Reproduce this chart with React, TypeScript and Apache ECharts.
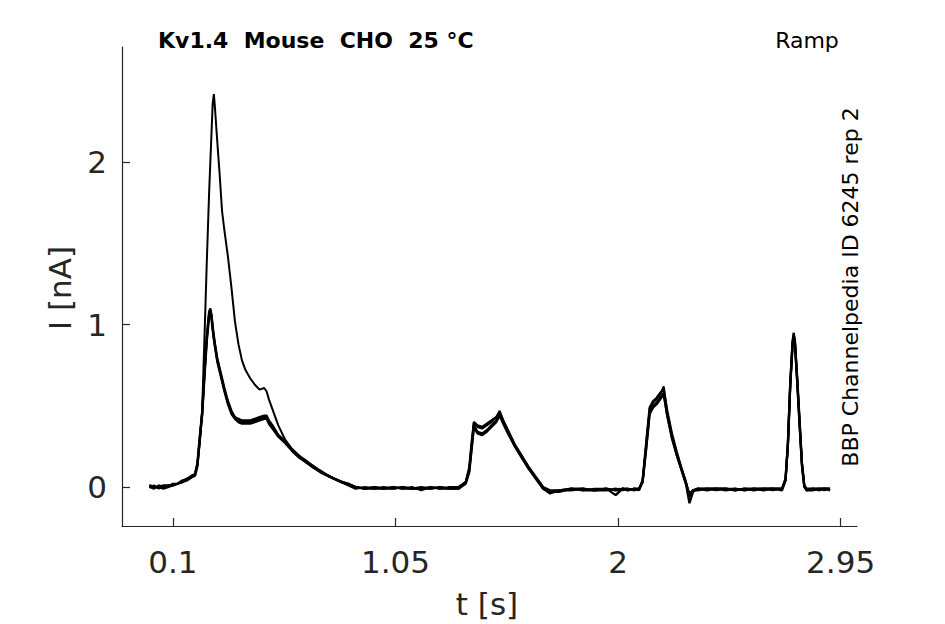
import React, { useEffect, useRef } from "react";
import * as echarts from "echarts";

// time grid [s], grouped by protocol phase
const timeSegments: number[][] = [
  [0, 0.02, 0.04, 0.06, 0.08, 0.1, 0.12, 0.14, 0.16, 0.18, 0.195],
  [0.205, 0.215, 0.225, 0.235, 0.245, 0.255, 0.26, 0.265, 0.27, 0.275, 0.28, 0.29, 0.3, 0.31, 0.32, 0.335, 0.35, 0.365, 0.38, 0.395, 0.41, 0.43, 0.45, 0.47, 0.49, 0.5, 0.51, 0.53, 0.55, 0.58, 0.61, 0.64, 0.67, 0.7, 0.73, 0.76, 0.79, 0.82, 0.85, 0.88],
  [0.92, 0.96, 1.0, 1.04, 1.08, 1.12, 1.16, 1.2, 1.24, 1.28, 1.32],
  [1.35, 1.365, 1.375, 1.385, 1.4, 1.42, 1.44, 1.46, 1.48, 1.495, 1.51, 1.53, 1.56, 1.59, 1.62, 1.65, 1.68, 1.71, 1.75],
  [1.8, 1.85, 1.9, 1.95, 1.99, 2.005, 2.02, 2.04, 2.07, 2.09],
  [2.105, 2.12, 2.135, 2.15, 2.165, 2.18, 2.195, 2.21, 2.23, 2.25, 2.27, 2.29, 2.305, 2.32, 2.34],
  [2.38, 2.42, 2.46, 2.5, 2.54, 2.58, 2.62, 2.66, 2.7],
  [2.715, 2.725, 2.735, 2.745, 2.75, 2.755, 2.765, 2.775, 2.785, 2.795, 2.805],
  [2.83, 2.86, 2.88, 2.905],
];

// current traces [nA]
const traceA: number[][] = [
  [0.0, 0.01, -0.01, 0.0, 0.01, 0.01, 0.02, 0.03, 0.05, 0.06, 0.08],
  [0.14, 0.28, 0.47, 0.92, 1.39, 1.82, 2.0, 2.18, 2.36, 2.42, 2.33, 2.12, 1.92, 1.7, 1.58, 1.42, 1.23, 1.02, 0.88, 0.78, 0.72, 0.67, 0.63, 0.6, 0.61, 0.59, 0.54, 0.46, 0.38, 0.29, 0.23, 0.19, 0.16, 0.13, 0.1, 0.075, 0.05, 0.035, 0.02, 0.0],
  [-0.01, 0.0, -0.01, 0.0, -0.01, 0.0, -0.02, 0.0, -0.01, 0.0, 0.0],
  [0.03, 0.11, 0.26, 0.4, 0.37, 0.36, 0.38, 0.4, 0.43, 0.47, 0.41, 0.35, 0.26, 0.19, 0.12, 0.06, 0.0, -0.03, -0.02],
  [-0.01, -0.02, -0.01, -0.01, -0.02, -0.01, -0.02, -0.01, -0.02, -0.01],
  [0.03, 0.26, 0.48, 0.52, 0.54, 0.57, 0.62, 0.46, 0.32, 0.21, 0.12, 0.03, -0.05, -0.02, -0.01],
  [-0.01, -0.02, -0.01, -0.01, -0.02, -0.01, -0.01, -0.02, -0.01],
  [0.04, 0.25, 0.62, 0.88, 0.94, 0.9, 0.66, 0.4, 0.15, 0.01, -0.02],
  [-0.01, -0.01, -0.02, -0.01],
];
const traceB: number[][] = [
  [0.01, 0.0, 0.0, -0.01, 0.0, 0.01, 0.02, 0.03, 0.04, 0.06, 0.08],
  [0.14, 0.3, 0.45, 0.7, 0.92, 1.07, 1.09, 1.05, 0.98, 0.92, 0.87, 0.78, 0.72, 0.66, 0.6, 0.52, 0.46, 0.43, 0.41, 0.4, 0.4, 0.4, 0.41, 0.42, 0.43, 0.43, 0.4, 0.36, 0.32, 0.28, 0.23, 0.19, 0.15, 0.12, 0.095, 0.07, 0.05, 0.03, 0.015, 0.0],
  [-0.01, -0.01, 0.0, -0.01, 0.0, -0.01, -0.01, 0.0, -0.01, -0.01, 0.0],
  [0.03, 0.1, 0.24, 0.38, 0.34, 0.33, 0.35, 0.38, 0.41, 0.45, 0.4, 0.34, 0.25, 0.18, 0.11, 0.05, -0.01, -0.04, -0.02],
  [-0.02, -0.01, -0.02, -0.01, -0.05, -0.03, -0.01, -0.02, -0.01, -0.01],
  [0.04, 0.24, 0.46, 0.5, 0.52, 0.55, 0.58, 0.44, 0.31, 0.2, 0.11, 0.02, -0.1, -0.03, -0.01],
  [-0.02, -0.01, -0.01, -0.02, -0.01, -0.01, -0.02, -0.01, -0.01],
  [0.05, 0.27, 0.64, 0.89, 0.93, 0.88, 0.64, 0.38, 0.13, 0.0, -0.02],
  [-0.02, -0.01, -0.01, -0.01],
];
const traceC: number[][] = [
  [0.0, -0.01, 0.01, 0.0, 0.0, 0.02, 0.02, 0.03, 0.05, 0.06, 0.07],
  [0.13, 0.29, 0.44, 0.68, 0.9, 1.05, 1.08, 1.04, 0.97, 0.91, 0.86, 0.77, 0.71, 0.65, 0.59, 0.51, 0.45, 0.42, 0.4, 0.39, 0.39, 0.39, 0.4, 0.41, 0.42, 0.42, 0.39, 0.35, 0.31, 0.27, 0.22, 0.18, 0.15, 0.12, 0.09, 0.07, 0.05, 0.03, 0.01, -0.01],
  [0.0, -0.01, -0.01, 0.0, -0.01, -0.01, 0.0, -0.01, 0.0, -0.01, -0.01],
  [0.02, 0.09, 0.23, 0.37, 0.33, 0.32, 0.34, 0.37, 0.4, 0.44, 0.39, 0.33, 0.25, 0.18, 0.11, 0.05, -0.01, -0.03, -0.03],
  [-0.01, -0.02, -0.02, -0.01, -0.02, -0.02, -0.01, -0.01, -0.02, -0.01],
  [0.03, 0.23, 0.45, 0.49, 0.51, 0.54, 0.57, 0.44, 0.3, 0.2, 0.11, 0.02, -0.04, -0.02, -0.02],
  [-0.01, -0.01, -0.02, -0.01, -0.02, -0.01, -0.01, -0.01, -0.02],
  [0.04, 0.26, 0.63, 0.9, 0.95, 0.89, 0.65, 0.39, 0.14, 0.01, -0.01],
  [-0.01, -0.02, -0.01, -0.01],
];
const traceD: number[][] = [
  [0.01, 0.0, 0.0, 0.01, 0.01, 0.01, 0.02, 0.04, 0.05, 0.07, 0.08],
  [0.15, 0.31, 0.46, 0.71, 0.93, 1.08, 1.1, 1.06, 0.99, 0.93, 0.88, 0.79, 0.73, 0.67, 0.61, 0.53, 0.47, 0.43, 0.42, 0.41, 0.41, 0.41, 0.42, 0.43, 0.44, 0.44, 0.41, 0.37, 0.32, 0.28, 0.23, 0.19, 0.16, 0.12, 0.1, 0.07, 0.05, 0.03, 0.02, 0.0],
  [-0.01, 0.0, -0.01, -0.01, 0.0, -0.01, -0.01, -0.01, 0.0, -0.01, -0.01],
  [0.03, 0.12, 0.27, 0.4, 0.38, 0.37, 0.39, 0.41, 0.43, 0.46, 0.41, 0.35, 0.26, 0.19, 0.12, 0.06, 0.0, -0.02, -0.02],
  [-0.01, -0.01, -0.02, -0.02, -0.01, -0.02, -0.01, -0.02, -0.01, -0.02],
  [0.04, 0.27, 0.49, 0.53, 0.55, 0.58, 0.6, 0.47, 0.33, 0.22, 0.12, 0.03, -0.06, -0.02, -0.01],
  [-0.01, -0.01, -0.01, -0.02, -0.01, -0.02, -0.01, -0.01, -0.01],
  [0.05, 0.26, 0.62, 0.87, 0.93, 0.9, 0.67, 0.41, 0.15, 0.01, -0.02],
  [-0.01, -0.01, -0.01, -0.02],
];

const xTicks = [0.1, 1.05, 2, 2.95];
const yTicks = [0, 1, 2];

const titleText = "Kv1.4  Mouse  CHO  25 °C";
const protocolText = "Ramp";
const sideText = "BBP Channelpedia ID 6245 rep 2";
const xName = "t [s]";
const yName = "I [nA]";

const FONT = "DejaVu Sans";
const AXIS_COLOR = "#262626";

export default function App() {
  const ref = useRef<HTMLDivElement>(null);

  useEffect(() => {
    if (!ref.current) return;
    const chart = echarts.init(ref.current, undefined, { renderer: "svg" });
    const time = timeSegments.flat();
    const traces = [traceA, traceB, traceC, traceD];

    const series = traces.map((tr, k) => {
      const vals = tr.flat();
      return {
        type: "line",
        name: "rep" + (k + 1),
        data: time.map((t, i) => [t, vals[i]]),
        showSymbol: false,
        symbol: "none",
        lineStyle: { color: "#000", width: k === 0 ? 2 : 2.3 },
        z: 3,
      };
    });

    chart.setOption({
      animation: false,
      backgroundColor: "#fff",
      grid: { left: 122, top: 47, width: 735, height: 479 },
      xAxis: {
        type: "value",
        min: -0.117,
        max: 3.02,
        axisLine: { show: true, onZero: false, lineStyle: { color: AXIS_COLOR, width: 1.2 } },
        axisTick: {
          show: true,
          inside: true,
          length: 8,
          customValues: xTicks,
          lineStyle: { color: AXIS_COLOR, width: 1.2 },
        },
        axisLabel: {
          customValues: xTicks,
          color: AXIS_COLOR,
          fontFamily: FONT,
          fontSize: 31,
          margin: 20,
          formatter: (v: number) => String(v),
        },
        splitLine: { show: false },
      },
      yAxis: {
        type: "value",
        min: -0.24,
        max: 2.71,
        axisLine: { show: true, onZero: false, lineStyle: { color: AXIS_COLOR, width: 1.2 } },
        axisTick: {
          show: true,
          inside: true,
          length: 8,
          customValues: yTicks,
          lineStyle: { color: AXIS_COLOR, width: 1.2 },
        },
        axisLabel: {
          customValues: yTicks,
          color: AXIS_COLOR,
          fontFamily: FONT,
          fontSize: 31,
          margin: 15,
          formatter: (v: number) => String(v),
        },
        splitLine: { show: false },
      },
      series,
      graphic: [
        {
          type: "text",
          x: 158,
          y: 40,
          style: {
            text: titleText,
            fill: "#000",
            font: `bold 22px "${FONT}"`,
            textAlign: "left",
            textVerticalAlign: "middle",
          },
        },
        {
          type: "text",
          x: 807,
          y: 40,
          style: {
            text: protocolText,
            fill: "#000",
            font: `22px "${FONT}"`,
            textAlign: "center",
            textVerticalAlign: "middle",
          },
        },
        {
          type: "text",
          x: 850,
          y: 287,
          rotation: Math.PI / 2,
          style: {
            text: sideText,
            fill: "#000",
            font: `22px "${FONT}"`,
            textAlign: "center",
            textVerticalAlign: "middle",
          },
        },
        {
          type: "text",
          x: 60,
          y: 288,
          rotation: Math.PI / 2,
          style: {
            text: yName,
            fill: AXIS_COLOR,
            font: `31px "${FONT}"`,
            textAlign: "center",
            textVerticalAlign: "middle",
          },
        },
        {
          type: "text",
          x: 487,
          y: 604,
          style: {
            text: xName,
            fill: AXIS_COLOR,
            font: `31px "${FONT}"`,
            textAlign: "center",
            textVerticalAlign: "middle",
          },
        },
      ],
    });

    return () => chart.dispose();
  }, []);

  return (
    <div
      ref={ref}
      style={{ position: "fixed", left: 0, top: 0, width: 945, height: 624 }}
    />
  );
}
